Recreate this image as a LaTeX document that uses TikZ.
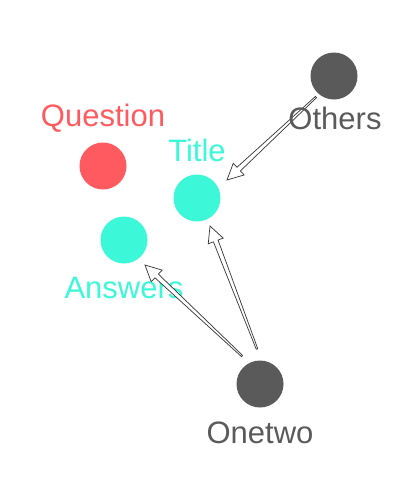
\documentclass[tikz,border=0pt]{standalone}
\usepackage{fontspec}
\setmainfont{Liberation Sans}
\usetikzlibrary{calc}
\definecolor{qred}{HTML}{FF5A5F}
\definecolor{turq}{HTML}{3CF8D8}
\definecolor{dgrey}{HTML}{5A5A5A}
\definecolor{edgec}{HTML}{333333}
\newcommand{\hollowarrow}[2]{%
  \path ($(#2)!16pt!(#1)$) coordinate (hb);
  \draw[arrowline]
    ($(#1)!0.8pt!90:(#2)$) --
    ($(hb)!2.5pt!90:(#2)$) --
    ($(hb)!8pt!90:(#2)$) --
    (#2) --
    ($(hb)!8pt!-90:(#2)$) --
    ($(hb)!2.5pt!-90:(#2)$) --
    ($(#1)!0.8pt!-90:(#2)$) -- cycle;
}
\begin{document}
\begin{tikzpicture}[x=1pt,y=-1pt,
  dot/.style={circle,inner sep=0pt,minimum size=47pt},
  lbl/.style={anchor=base,inner sep=0pt,font=\fontsize{31}{37}\selectfont},
  arrowline/.style={draw=edgec,line width=0.7pt,fill=white,line join=miter}]
\useasboundingbox (0,0) rectangle (413,488);
\node[dot,fill=qred] (question) at (103,166) {};
\node[dot,fill=turq] (title) at (197,198) {};
\node[dot,fill=turq] (answers) at (124,240) {};
\node[dot,fill=dgrey] (others) at (334,76) {};
\node[dot,fill=dgrey] (onetwo) at (260,384) {};
\node[lbl,text=qred] (questionl) at (103,126) {Question};
\node[lbl,text=turq] (titlel) at (197,161.5) {Title};
\node[lbl,text=turq] (answersl) at (124,298) {Answers};
\coordinate (t1) at (242,356);
\coordinate (p1) at (145,265);
\coordinate (t2) at (257,349);
\coordinate (p2) at (210,226);
\coordinate (t3) at (316,97);
\coordinate (p3) at (227,180);
\hollowarrow{t1}{p1}
\hollowarrow{t2}{p2}
\hollowarrow{t3}{p3}
\node[lbl,text=dgrey] (othersl) at (335,129) {Others};
\node[lbl,text=dgrey] (onetwol) at (260,443) {Onetwo};
\end{tikzpicture}
\end{document}
